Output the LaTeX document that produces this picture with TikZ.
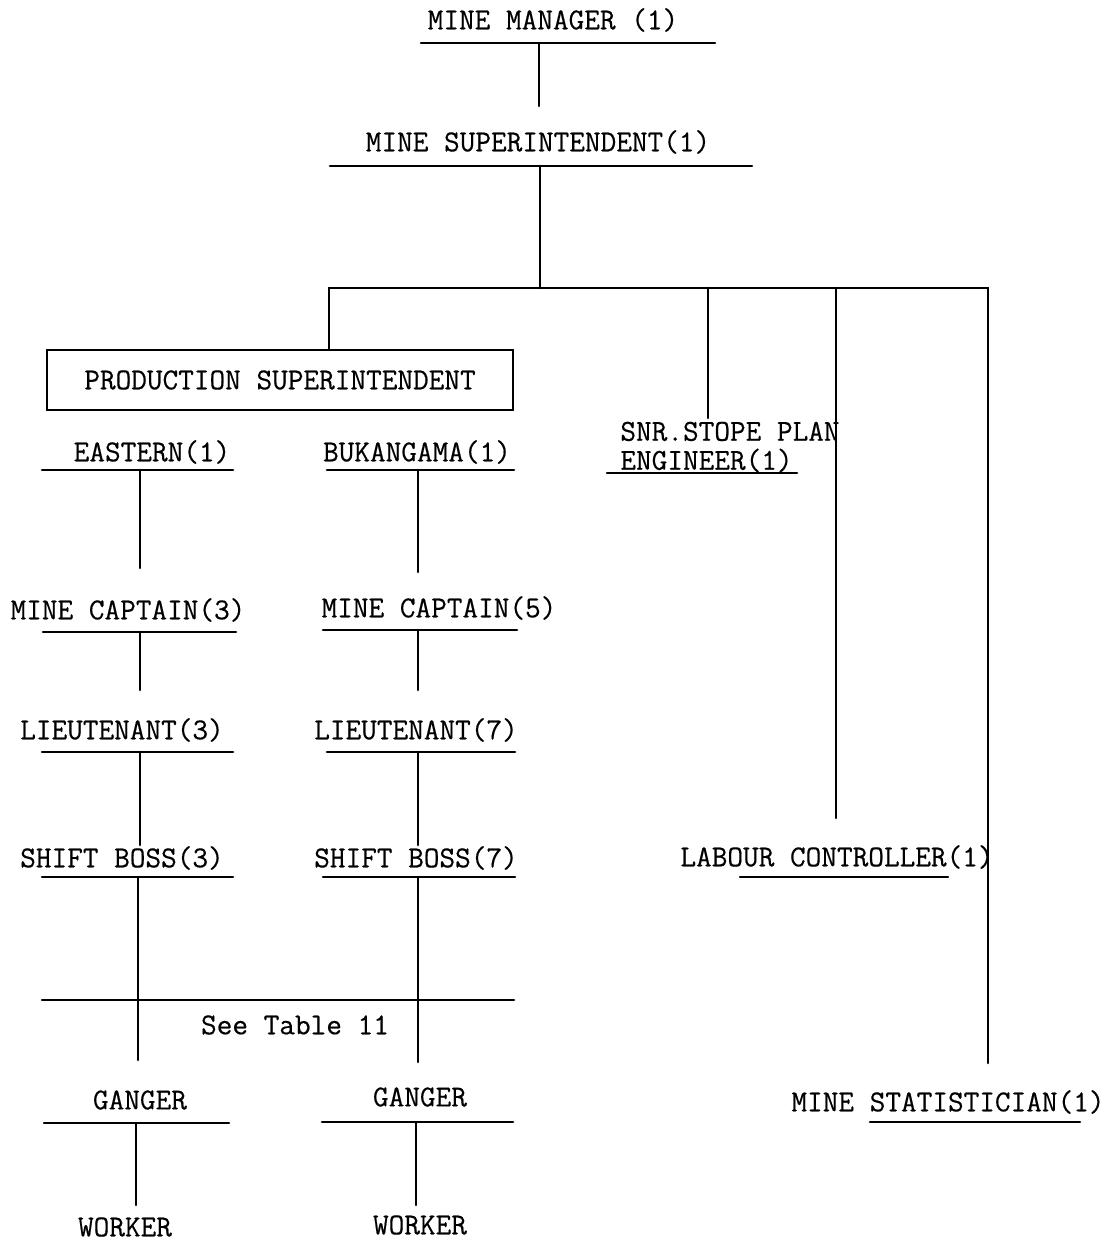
\documentclass[tikz,border=0pt]{standalone}
\usepackage{fontspec}
\newfontfamily\typew{Latin Modern Mono}[FakeBold=0.4]
\begin{document}
\begin{tikzpicture}[x=0.5pt,y=-0.5pt,
  lbl/.style={inner sep=0pt, font=\fontsize{15.2}{14.5}\selectfont\typew},
  ln/.style={line width=1.3pt, line cap=round},
  boxed/.style={lbl, draw, line width=1.3pt, minimum width=233pt, minimum height=30pt}]
\useasboundingbox[fill=white] (0,0) rectangle (1111,1247);

% labels
\node[lbl] (mm)   at (553,20)  {MINE MANAGER (1)};
\node[lbl] (ms)   at (538,142) {MINE SUPERINTENDENT(1)};
\node[boxed] (ps) at (280,380) {PRODUCTION SUPERINTENDENT};
\node[lbl] (east) at (152,452) {EASTERN(1)};
\node[lbl] (buk)  at (417,452) {BUKANGAMA(1)};
\node[lbl, align=left, anchor=west] (snr) at (620,447) {SNR.STOPE PLAN\\ENGINEER(1)};
\node[lbl] (mc3)  at (128,610) {MINE CAPTAIN(3)};
\node[lbl] (mc5)  at (439,608) {MINE CAPTAIN(5)};
\node[lbl] (lt3)  at (122,730) {LIEUTENANT(3)};
\node[lbl] (lt7)  at (416,730) {LIEUTENANT(7)};
\node[lbl] (sb3)  at (122,858) {SHIFT BOSS(3)};
\node[lbl] (sb7)  at (416,858) {SHIFT BOSS(7)};
\node[lbl] (see)  at (295,1025) {See Table 11};
\node[lbl] (g1)   at (140,1100) {GANGER};
\node[lbl] (g2)   at (420,1097) {GANGER};
\node[lbl] (w1)   at (125,1227) {WORKER};
\node[lbl] (w2)   at (420,1225) {WORKER};
\node[lbl] (lc)   at (837,857) {LABOUR CONTROLLER(1)};
\node[lbl] (stat) at (948,1102) {MINE STATISTICIAN(1)};

% underline end points
\coordinate (mmL) at (421,43);   \coordinate (mmR) at (715,43);
\coordinate (msL) at (330,166);  \coordinate (msR) at (752,166);
\coordinate (eaL) at (42,470);   \coordinate (eaR) at (233,470);
\coordinate (buL) at (327,470);  \coordinate (buR) at (514,470);
\coordinate (c3L) at (43,632);   \coordinate (c3R) at (236,632);
\coordinate (c5L) at (323,630);  \coordinate (c5R) at (517,630);
\coordinate (l3L) at (42,752);   \coordinate (l3R) at (233,752);
\coordinate (l7L) at (327,752);  \coordinate (l7R) at (515,752);
\coordinate (s3L) at (42,877);   \coordinate (s3R) at (233,877);
\coordinate (s7L) at (323,877);  \coordinate (s7R) at (515,877);
\coordinate (tbL) at (42,1000);  \coordinate (tbR) at (514,1000);
\coordinate (g1L) at (44,1123);  \coordinate (g1R) at (229,1123);
\coordinate (g2L) at (322,1122); \coordinate (g2R) at (513,1122);
\coordinate (snL) at (607,473);  \coordinate (snR) at (797,473);
\coordinate (lcL) at (740,877);  \coordinate (lcR) at (948,877);
\coordinate (stL) at (870,1122); \coordinate (stR) at (1080,1122);

\foreach \a/\b in {mmL/mmR,msL/msR,eaL/eaR,buL/buR,c3L/c3R,c5L/c5R,l3L/l3R,l7L/l7R,
  s3L/s3R,s7L/s7R,tbL/tbR,g1L/g1R,g2L/g2R,snL/snR,lcL/lcR,stL/stR}
  \draw[ln] (\a) -- (\b);

% connector free ends
\coordinate (mmA) at (539,43);   \coordinate (mmB) at (539,106);
\coordinate (msA) at (540,166);  \coordinate (busM) at (540,288);
\coordinate (busL) at (329,288); \coordinate (busR) at (988,288);
\coordinate (snA) at (708,288);  \coordinate (snB) at (708,418);
\coordinate (lcA) at (836,289);  \coordinate (lcB) at (836,818);
\coordinate (stB) at (988,1063);
\coordinate (eaA) at (140,470);  \coordinate (eaB) at (140,568);
\coordinate (buA) at (418,470);  \coordinate (buB) at (418,572);
\coordinate (c3A) at (140,632);  \coordinate (c3B) at (140,690);
\coordinate (c5A) at (418,630);  \coordinate (c5B) at (418,690);
\coordinate (l3A) at (140,752);  \coordinate (l3B) at (140,845);
\coordinate (l7A) at (418,752);  \coordinate (l7B) at (418,845);
\coordinate (s3A) at (138,877);  \coordinate (s3B) at (138,1060);
\coordinate (s7A) at (418,877);  \coordinate (s7B) at (418,1062);
\coordinate (g1A) at (136,1123); \coordinate (g1B) at (136,1205);
\coordinate (g2A) at (416,1122); \coordinate (g2B) at (416,1205);

\draw[ln] (mmA) -- (mmB);
\draw[ln] (msA) -- (busM);
\draw[ln] (ps.north -| busL) -- (busL) -- (busR) -- (stB);
\draw[ln] (snA) -- (snB);
\draw[ln] (lcA) -- (lcB);
\foreach \a/\b in {eaA/eaB,buA/buB,c3A/c3B,c5A/c5B,l3A/l3B,l7A/l7B,s3A/s3B,s7A/s7B,g1A/g1B,g2A/g2B}
  \draw[ln] (\a) -- (\b);
\end{tikzpicture}
\end{document}
